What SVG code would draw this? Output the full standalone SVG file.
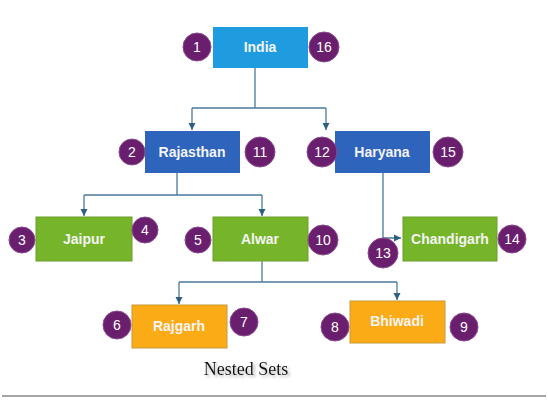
<svg xmlns="http://www.w3.org/2000/svg" width="548" height="400" viewBox="0 0 548 400">
<style>
.lbl{font-family:"Liberation Sans",Arial,sans-serif;font-weight:bold;font-size:14px;fill:#f4f4f4;text-anchor:middle;dominant-baseline:central}
.num{font-family:"Liberation Sans",Arial,sans-serif;font-size:14px;fill:#fff;text-anchor:middle;dominant-baseline:central}
.c{fill:#6a1f6e;stroke:#8a4a90;stroke-width:1}
.b1{fill:#1f9be0}
.b2{fill:#2f64bd}
.g{fill:#76b52a;stroke:#6a9e2a;stroke-width:1}
.o{fill:#fbab16;stroke:#c79a3a;stroke-width:1}
.con{fill:none;stroke:#4a7a9a;stroke-width:1.3}
</style>
<defs>
<marker id="ah" markerWidth="8" markerHeight="8" refX="7" refY="4" orient="auto" markerUnits="userSpaceOnUse">
<path d="M0,0.5 L7,4 L0,7.5 Z" fill="#2f5f80"/>
</marker>
<filter id="sh" x="-10%" y="-30%" width="130%" height="180%">
<feDropShadow dx="2" dy="2" stdDeviation="1.5" flood-color="#888" flood-opacity="0.7"/>
</filter>
</defs>
<g id="connectors">
<path class="con" d="M255,68 V108 M192,108 H326" />
<path class="con" d="M192,108 V130" marker-end="url(#ah)"/>
<path class="con" d="M326,108 V130" marker-end="url(#ah)"/>
<path class="con" d="M177,173 V195 M84,195 H262" />
<path class="con" d="M84,195 V216" marker-end="url(#ah)"/>
<path class="con" d="M262,195 V216" marker-end="url(#ah)"/>
<path class="con" d="M383,173 V238 H401" marker-end="url(#ah)"/>
<path class="con" d="M262,261 V282 M179,282 H397" />
<path class="con" d="M179,282 V304" marker-end="url(#ah)"/>
<path class="con" d="M397,282 V300" marker-end="url(#ah)"/>
</g>
<g id="india"><rect class="b1" x="213" y="27" width="95" height="41"/><text class="lbl" x="260" y="47">India</text>
<circle class="c" cx="197" cy="47" r="14"/><text class="num" x="197" y="47">1</text>
<circle class="c" cx="324" cy="47" r="15"/><text class="num" x="324" y="47">16</text></g>
<g id="rajasthan"><rect class="b2" x="145" y="131" width="95" height="42"/><text class="lbl" x="192" y="152">Rajasthan</text>
<circle class="c" cx="132" cy="152" r="13"/><text class="num" x="132" y="152">2</text>
<circle class="c" cx="260" cy="152" r="15"/><text class="num" x="260" y="152">11</text></g>
<g id="haryana"><rect class="b2" x="335" y="131" width="95" height="42"/><text class="lbl" x="382" y="152">Haryana</text>
<circle class="c" cx="322" cy="152" r="15"/><text class="num" x="322" y="152">12</text>
<circle class="c" cx="448" cy="152" r="15"/><text class="num" x="448" y="152">15</text></g>
<g id="jaipur"><rect class="g" x="36" y="217" width="96" height="44"/><text class="lbl" x="84" y="239">Jaipur</text>
<circle class="c" cx="22" cy="240" r="13"/><text class="num" x="22" y="240">3</text>
<circle class="c" cx="145" cy="230" r="13"/><text class="num" x="145" y="230">4</text></g>
<g id="alwar"><rect class="g" x="213" y="217" width="95" height="44"/><text class="lbl" x="260" y="239">Alwar</text>
<circle class="c" cx="198" cy="240" r="13"/><text class="num" x="198" y="240">5</text>
<circle class="c" cx="323" cy="240" r="15"/><text class="num" x="323" y="240">10</text></g>
<g id="chandigarh"><rect class="g" x="403" y="217" width="94" height="44"/><text class="lbl" x="450" y="239">Chandigarh</text>
<circle class="c" cx="383" cy="253" r="15"/><text class="num" x="383" y="253">13</text>
<circle class="c" cx="512" cy="239" r="14"/><text class="num" x="512" y="239">14</text></g>
<g id="rajgarh"><rect class="o" x="132" y="305" width="95" height="43"/><text class="lbl" x="179" y="326">Rajgarh</text>
<circle class="c" cx="117" cy="325" r="14"/><text class="num" x="117" y="325">6</text>
<circle class="c" cx="244" cy="322" r="14"/><text class="num" x="244" y="322">7</text></g>
<g id="bhiwadi"><rect class="o" x="350" y="301" width="95" height="42"/><text class="lbl" x="397" y="321">Bhiwadi</text>
<circle class="c" cx="335" cy="327" r="14"/><text class="num" x="335" y="327">8</text>
<circle class="c" cx="464" cy="327" r="14"/><text class="num" x="464" y="327">9</text></g>
<text x="246" y="375" text-anchor="middle" font-family="'Liberation Serif','Times New Roman',serif" font-size="18" fill="#111" filter="url(#sh)">Nested Sets</text>
<line x1="2" y1="396" x2="546" y2="396" stroke="#888" stroke-width="1.5"/>
</svg>
